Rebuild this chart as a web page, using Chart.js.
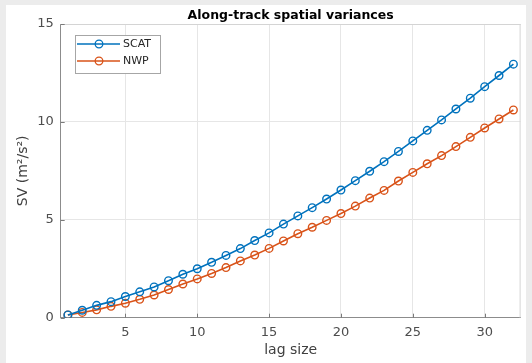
<!DOCTYPE html>
<html>
<head>
<meta charset="utf-8">
<title>Along-track spatial variances</title>
<script src="https://cdn.jsdelivr.net/npm/chart.js@4.4.1/dist/chart.umd.min.js"></script>
<style>
    html, body { margin: 0; padding: 0; background: #ececec; }
    #panel { position: absolute; left: 6px; top: 5px; width: 520px; height: 358px; background: #ffffff; }
    canvas { display: block; }
</style>
</head>
<body>
<div id="panel"><canvas id="svChart" width="520" height="358"></canvas></div>
<script>
// Lag sizes and spatial variances (m^2/s^2)
const lags = [1, 2, 3, 4, 5, 6, 7, 8, 9, 10, 11, 12, 13, 14, 15, 16,
              17, 18, 19, 20, 21, 22, 23, 24, 25, 26, 27, 28, 29, 30, 31, 32];
const scatSV = [0.14, 0.38, 0.63, 0.82, 1.08, 1.32, 1.57, 1.89, 2.22, 2.50, 2.83, 3.18, 3.53, 3.94, 4.33, 4.78,
                5.20, 5.62, 6.06, 6.52, 7.00, 7.48, 7.97, 8.49, 9.03, 9.57, 10.10, 10.66, 11.21, 11.80, 12.37, 12.95];
const nwpSV = [0.14, 0.27, 0.40, 0.58, 0.74, 0.94, 1.16, 1.44, 1.72, 1.98, 2.26, 2.56, 2.90, 3.20, 3.54, 3.92,
               4.29, 4.62, 4.97, 5.32, 5.70, 6.11, 6.50, 6.98, 7.42, 7.86, 8.28, 8.74, 9.21, 9.69, 10.15, 10.61];
const xTicks = [5, 10, 15, 20, 25, 30];
const yTicks = [0, 5, 10, 15];

const FONT = "'DejaVu Sans', sans-serif";
const BLUE = '#0072bd';
const ORANGE = '#d95319';

function toPoints(ys) {
    return lags.map((x, i) => ({ x: x, y: ys[i] }));
}

// Box outline, inward tick marks and the in-axes legend
const axesDecor = {
    id: 'axesDecor',
    afterDraw(chart) {
        const { ctx, chartArea: a, scales } = chart;
        ctx.save();
        ctx.lineWidth = 1;

        // top and right edges of the box
        ctx.strokeStyle = '#d4d4d4';
        ctx.beginPath();
        ctx.moveTo(a.left, a.top + 0.5);
        ctx.lineTo(a.right, a.top + 0.5);
        ctx.moveTo(a.right - 0.5, a.top);
        ctx.lineTo(a.right - 0.5, a.bottom);
        ctx.stroke();

        // tick marks pointing into the plot
        ctx.strokeStyle = '#7a7a7a';
        ctx.beginPath();
        xTicks.forEach(v => {
            const px = Math.round(scales.x.getPixelForValue(v)) + 0.5;
            ctx.moveTo(px, a.bottom);
            ctx.lineTo(px, a.bottom - 4);
        });
        yTicks.forEach(v => {
            const py = Math.round(scales.y.getPixelForValue(v)) + 0.5;
            ctx.moveTo(a.left, py);
            ctx.lineTo(a.left + 4, py);
        });
        ctx.stroke();

        // legend
        const lx = 69.5, ly = 30.5, lw = 85, lh = 38;
        ctx.fillStyle = '#ffffff';
        ctx.fillRect(lx, ly, lw, lh);
        ctx.strokeStyle = '#a6a6a6';
        ctx.strokeRect(lx, ly, lw, lh);
        ctx.font = '11px ' + FONT;
        ctx.textBaseline = 'middle';
        chart.data.datasets.forEach((ds, i) => {
            const y = 39 + i * 17;
            ctx.strokeStyle = ds.borderColor;
            ctx.lineWidth = 1.5;
            ctx.beginPath();
            ctx.moveTo(71, y);
            ctx.lineTo(114, y);
            ctx.stroke();
            ctx.lineWidth = 1.3;
            ctx.beginPath();
            ctx.arc(93, y, 3.8, 0, Math.PI * 2);
            ctx.stroke();
            ctx.fillStyle = '#262626';
            ctx.fillText(ds.label, 117, y + 0.5);
        });
        ctx.restore();
    }
};

new Chart(document.getElementById('svChart'), {
    type: 'line',
    data: {
        datasets: [
            {
                label: 'SCAT',
                data: toPoints(scatSV),
                borderColor: BLUE,
                borderWidth: 1.6,
                pointStyle: 'circle',
                pointRadius: 3.8,
                pointBorderWidth: 1.4,
                pointBorderColor: BLUE,
                pointBackgroundColor: 'transparent',
                tension: 0
            },
            {
                label: 'NWP',
                data: toPoints(nwpSV),
                borderColor: ORANGE,
                borderWidth: 1.6,
                pointStyle: 'circle',
                pointRadius: 3.8,
                pointBorderWidth: 1.4,
                pointBorderColor: ORANGE,
                pointBackgroundColor: 'transparent',
                tension: 0
            }
        ]
    },
    options: {
        responsive: false,
        animation: false,
        layout: { padding: { left: 0, right: 5, top: 0, bottom: 0 } },
        plugins: {
            legend: { display: false },
            tooltip: { enabled: false },
            title: {
                display: true,
                fullSize: false,
                text: 'Along-track spatial variances',
                color: '#000000',
                font: { family: FONT, size: 12.5, weight: 'bold' },
                padding: { top: 3, bottom: 1 }
            }
        },
        scales: {
            x: {
                type: 'linear',
                min: 0.5,
                max: 32.5,
                afterBuildTicks: scale => { scale.ticks = xTicks.map(v => ({ value: v })); },
                afterFit: scale => { scale.height = 45.3; },
                grid: { color: '#e6e6e6', drawTicks: false },
                border: { display: true, color: '#8c8c8c', width: 1 },
                ticks: { color: '#4d4d4d', padding: 7, font: { family: FONT, size: 13 } },
                title: {
                    display: true,
                    text: 'lag size',
                    color: '#404040',
                    font: { family: FONT, size: 14 },
                    padding: { top: 0, bottom: 4.2 }
                }
            },
            y: {
                min: 0,
                max: 15,
                afterBuildTicks: scale => { scale.ticks = yTicks.map(v => ({ value: v })); },
                afterFit: scale => { scale.width = 54.7; },
                grid: { color: '#e6e6e6', drawTicks: false },
                border: { display: true, color: '#8c8c8c', width: 1 },
                ticks: { color: '#4d4d4d', padding: 7, font: { family: FONT, size: 13 } },
                title: {
                    display: true,
                    text: 'SV (m²/s²)',
                    color: '#404040',
                    font: { family: FONT, size: 14 },
                    padding: { top: 8.6, bottom: 0 }
                }
            }
        }
    },
    plugins: [axesDecor]
});
</script>
</body>
</html>
